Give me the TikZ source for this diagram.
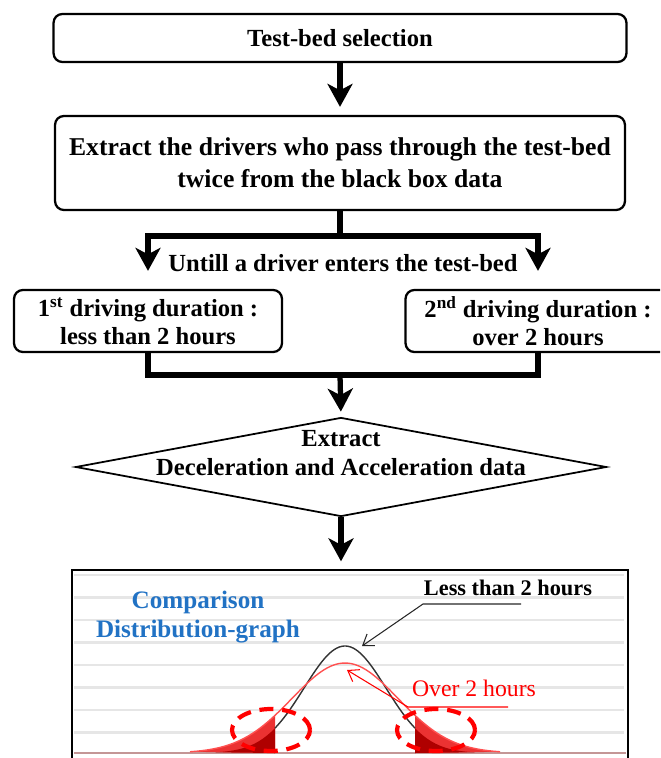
\documentclass[tikz,border=0pt]{standalone}
\usepackage{fontspec}
\setmainfont{Liberation Serif}
\usetikzlibrary{arrows.meta,shapes.geometric,positioning}
\definecolor{compblue}{RGB}{33,114,196}
\definecolor{gridgray}{RGB}{230,230,230}
\definecolor{baseclr}{RGB}{196,150,150}
\definecolor{tailred}{RGB}{235,50,50}
\definecolor{darkred}{RGB}{175,0,0}
\definecolor{curvered}{RGB}{255,80,80}
\tikzset{
  flowbox/.style={draw, line width=1.3pt, rounded corners=5pt, align=center, inner sep=0pt,
    font=\bfseries\fontsize{14}{18}\selectfont},
  smallbox/.style={flowbox, font=\bfseries\fontsize{14}{16}\selectfont},
  flowtext/.style={align=center, font=\bfseries\fontsize{14}{17}\selectfont},
  decision/.style={diamond, draw, line width=1pt, inner sep=0pt, minimum width=10.62cm, minimum height=1.98cm},
  bigline/.style={line width=3pt},
  bigarrow/.style={line width=3pt, -{Stealth[length=0.46cm,width=0.5cm,inset=0.13cm]}},
  thinarrow/.style={line width=0.6pt, -{Straight Barb[length=0.2cm,width=0.28cm]}},
  tailring/.style={red, line width=2.4pt, dash pattern=on 8pt off 5pt},
}
\begin{document}
\begin{tikzpicture}[x=0.02cm,y=-0.02cm]
    \useasboundingbox (0,0) rectangle (660,758);
    \clip (0,0) rectangle (660,758);
    % Flow boxes
    \node[flowbox, minimum width=11.46cm, minimum height=0.96cm] (select) at (340,38) {Test-bed selection};
    \node[flowbox, minimum width=11.4cm, minimum height=1.88cm, font=\bfseries\fontsize{14.6}{18}\selectfont] (extract) at (340,163)
        {Extract the drivers who pass through the test-bed\\twice from the black box data};
    \draw[bigarrow, shorten >=0.16cm] (select) -- (extract);
    % Split
    \coordinate (forkL) at (148,236);
    \coordinate (forkR) at (538,236);
    \node[smallbox, minimum width=5.36cm, minimum height=1.24cm] (first) at (148,321)
        {1\textsuperscript{st} driving duration :\\less than 2 hours};
    \node[smallbox, minimum width=5.3cm, minimum height=1.24cm] (second) at (538,321)
        {2\textsuperscript{nd} driving duration :\\over 2 hours};
    \draw[bigline] (extract.south) -- (extract.south |- forkL);
    \draw[bigline, line cap=rect] (forkL) -- (forkR);
    \draw[bigarrow, shorten >=0.36cm] (forkL) -- (first.north);
    \draw[bigarrow, shorten >=0.36cm] (forkR) -- (second.north);
    \node[flowtext] (until) at (343,263) {Untill a driver enters the test-bed};
    % Merge
    \coordinate (merge) at (340,375);
    \node[decision] (decide) at (341,467) {};
    \node[flowtext] (decideText) at (341,453) {Extract\\Deceleration and Acceleration data};
    \draw[bigline] (first.south) |- (merge) -| (second.south);
    \draw[bigarrow, shorten >=0.1cm] (merge) -- (decide.north);
    % Graph
    \node[draw, line width=0.8pt, minimum width=11.12cm, minimum height=4cm] (graph) at (350,670) {};
    \draw[bigarrow, shorten >=0.16cm] (decide.south) -- (decide.south |- graph.north);
    \foreach \k in {0,...,7}
        \draw[gridgray, line width=1.2pt] (74,575+22.5*\k) -- (624,575+22.5*\k);
    \draw[baseclr, line width=1.2pt] (74,753) -- (626,753);
    % Tails
    \fill[tailred] plot[domain=190:275, samples=40] (\x,{753-90*exp(-0.5*((\x-345)/53)^2)}) -- (275,753) -- cycle;
    \fill[tailred] (415,753) -- plot[domain=415:500, samples=40] (\x,{753-90*exp(-0.5*((\x-345)/53)^2)}) -- cycle;
    \fill[darkred] plot[domain=215:275, samples=30] (\x,{753-107*exp(-0.5*((\x-345)/41)^2)}) -- (275,753) -- cycle;
    \fill[darkred] (415,753) -- plot[domain=415:475, samples=30] (\x,{753-107*exp(-0.5*((\x-345)/41)^2)}) -- cycle;
    % Curves
    \draw[black!80, line width=0.8pt] plot[domain=275:415, samples=60] (\x,{753-107*exp(-0.5*((\x-345)/41)^2)});
    \draw[curvered, line width=0.8pt] plot[domain=190:500, samples=80] (\x,{753-90*exp(-0.5*((\x-345)/53)^2)});
    \draw[tailring] (271,730) ellipse [x radius=0.78cm, y radius=0.42cm];
    \draw[tailring] (436,730) ellipse [x radius=0.78cm, y radius=0.42cm];
    % Labels
    \node[align=center, text=compblue, font=\bfseries\fontsize{14.3}{17}\selectfont] (compLbl) at (198,617)
        {Comparison\\Distribution-graph};
    \node[font=\bfseries\fontsize{12.7}{15}\selectfont] (lessLbl) at (508,588) {Less than 2 hours};
    \coordinate (lessEnd) at (521,604);
    \coordinate (lessKnee) at (423,604);
    \coordinate (lessTip) at (362,646);
    \draw[thinarrow, black!85] (lessEnd) -- (lessKnee) -- (lessTip);
    \node[text=red, font=\fontsize{13.5}{16}\selectfont] (overLbl) at (474,688) {Over 2 hours};
    \coordinate (overEnd) at (508,707);
    \coordinate (overKnee) at (408,707);
    \coordinate (overTip) at (347,670);
    \draw[thinarrow, red] (overEnd) -- (overKnee) -- (overTip);
\end{tikzpicture}
\end{document}
